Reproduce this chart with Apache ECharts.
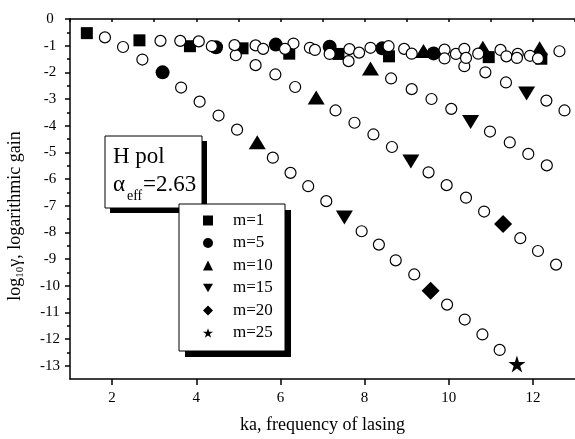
<!DOCTYPE html>
<html>
<head>
<meta charset="utf-8">
<script src="https://cdn.jsdelivr.net/npm/echarts@6.0.0/dist/echarts.min.js"></script>
<style>
  html, body { margin: 0; padding: 0; background: #fff; }
  #chart { width: 575px; height: 439px; }
</style>
</head>
<body>
<div id="chart"></div>
<script>
  // tick values
  const xTickLabels = [2, 4, 6, 8, 10, 12];
  const xMinorTicks = [3, 5, 7, 9, 11];
  const yTickLabels = [0, -1, -2, -3, -4, -5, -6, -7, -8, -9, -10, -11, -12, -13];
  const yMinorTicks = [-0.5, -1.5, -2.5, -3.5, -4.5, -5.5, -6.5, -7.5, -8.5, -9.5, -10.5, -11.5, -12.5];

  // filled markers, one array per m
  const m1Points = [[1.40, -0.53], [2.65, -0.80], [3.85, -1.02], [5.10, -1.10], [6.21, -1.30],
    [7.38, -1.31], [8.58, -1.40], [10.95, -1.43], [12.20, -1.49]];
  const m5Points = [[3.20, -2.00], [4.47, -1.06], [5.89, -0.96], [7.17, -1.04], [8.42, -1.10], [9.64, -1.29]];
  const m10Points = [[5.45, -4.62], [6.85, -2.94], [8.14, -1.86], [9.40, -1.20], [10.81, -1.08], [12.16, -1.10]];
  const m15Points = [[7.52, -7.44], [9.10, -5.34], [10.52, -3.86], [11.85, -2.79]];
  const m20Points = [[9.57, -10.19], [11.29, -7.69]];
  const m25Points = [[11.62, -12.94]];

  // open circles (intermediate m)
  const openPoints = [
    [1.83, -0.69], [2.26, -1.05], [2.72, -1.52], [3.64, -2.57], [4.08, -3.10], [4.53, -3.62], [4.97, -4.15],
    [5.82, -5.20], [6.24, -5.77], [6.66, -6.27], [7.09, -6.83], [7.93, -7.96], [8.34, -8.46], [8.74, -9.05],
    [9.18, -9.58], [9.96, -10.71], [10.38, -11.27], [10.80, -11.83], [11.21, -12.41],
    [3.15, -0.82], [3.62, -0.82], [4.06, -0.84], [4.94, -1.36], [5.41, -1.73], [5.88, -2.08], [6.35, -2.55],
    [7.31, -3.43], [7.76, -3.89], [8.21, -4.33], [8.65, -4.80], [9.52, -5.75], [9.95, -6.23], [10.41, -6.70],
    [10.84, -7.22], [11.70, -8.22], [12.12, -8.70], [12.55, -9.21],
    [4.37, -1.02], [4.91, -0.98], [5.41, -0.99], [6.31, -0.92], [6.70, -1.08], [7.17, -1.31], [7.62, -1.58],
    [8.63, -2.23], [9.12, -2.63], [9.59, -3.00], [10.06, -3.37], [10.98, -4.22], [11.45, -4.63], [11.89, -5.06],
    [12.33, -5.49],
    [5.59, -1.12], [6.11, -1.12], [6.82, -1.16], [7.64, -1.13], [7.87, -1.26], [8.14, -1.08], [8.57, -1.02],
    [8.94, -1.12], [9.12, -1.30], [9.90, -1.15], [9.90, -1.48], [10.17, -1.31], [10.37, -1.12], [10.37, -1.77],
    [10.41, -1.46], [10.70, -1.30], [10.87, -2.00], [11.23, -1.16], [11.37, -1.40], [11.36, -2.38], [11.64, -1.31],
    [11.62, -1.46], [11.93, -1.38], [12.12, -1.48], [12.32, -3.06], [12.63, -1.21], [12.75, -3.43]
  ];

  const FONT = "Liberation Serif";
  const BLACK = "#000";
  const STAR = "path://M50,0L61.8,36.2L100,36.2L69.1,58.6L80.9,95.1L50,72.6L19.1,95.1L30.9,58.6L0,36.2L38.2,36.2Z";
  const DOWN_TRI = "path://M0,0L20,0L10,17Z";

  const markerDefs = [
    { name: "m=1", data: m1Points, symbol: "rect", size: 12 },
    { name: "m=5", data: m5Points, symbol: "circle", size: 14 },
    { name: "m=10", data: m10Points, symbol: "triangle", size: [17, 14] },
    { name: "m=15", data: m15Points, symbol: DOWN_TRI, size: [17, 14] },
    { name: "m=20", data: m20Points, symbol: "diamond", size: 18 },
    { name: "m=25", data: m25Points, symbol: STAR, size: 17 }
  ];

  const lineStyle = { color: BLACK, width: 1.5 };
  const labelStyle = { fontFamily: FONT, fontSize: 15, color: BLACK };

  const chart = echarts.init(document.getElementById("chart"));

  chart.setOption({
    animation: false,
    backgroundColor: "#fff",
    grid: { left: 70, right: -7, top: 19, bottom: 55, containLabel: false },
    xAxis: [
      {
        type: "value", min: 1, max: 13, position: "bottom",
        axisLine: { show: true, onZero: false, lineStyle: lineStyle },
        axisTick: { show: true, customValues: xTickLabels, length: 6, lineStyle: lineStyle },
        axisLabel: { customValues: xTickLabels, margin: 12, ...labelStyle },
        splitLine: { show: false },
        name: "ka, frequency of lasing", nameLocation: "middle", nameGap: 37,
        nameTextStyle: { fontFamily: FONT, fontSize: 18, color: BLACK }
      },
      {
        type: "value", min: 1, max: 13, position: "bottom",
        axisLine: { show: false },
        axisTick: { show: true, customValues: xMinorTicks, length: 3, lineStyle: lineStyle },
        axisLabel: { show: false },
        splitLine: { show: false }
      },
      {
        type: "value", min: 1, max: 13, interval: 1, position: "top",
        axisLine: { show: true, onZero: false, lineStyle: lineStyle },
        axisTick: { show: true, inside: true, length: 3, lineStyle: lineStyle },
        axisLabel: { show: false },
        splitLine: { show: false }
      }
    ],
    yAxis: [
      {
        type: "value", min: -13.5, max: 0, position: "left",
        axisLine: { show: true, onZero: false, lineStyle: lineStyle },
        axisTick: { show: true, customValues: yTickLabels, length: 5, lineStyle: lineStyle },
        axisLabel: { customValues: yTickLabels, margin: 20, align: "center", ...labelStyle },
        splitLine: { show: false }
      },
      {
        type: "value", min: -13.5, max: 0, position: "left",
        axisLine: { show: false },
        axisTick: { show: true, customValues: yMinorTicks, length: 3, lineStyle: lineStyle },
        axisLabel: { show: false },
        splitLine: { show: false }
      }
    ],
    legend: {
      data: markerDefs.map((d) => d.name),
      orient: "vertical",
      left: 179,
      top: 204,
      padding: [8, 12, 10, 24],
      itemWidth: 10,
      itemHeight: 10,
      itemGap: 5.5,
      selectedMode: false,
      formatter: (name) => `{t|${name}}`,
      textStyle: {
        fontFamily: FONT, fontSize: 17, color: BLACK,
        rich: { t: { fontFamily: FONT, fontSize: 17, color: BLACK, padding: [0, 0, 0, 15] } }
      },
      z: 10
    },
    graphic: [
      // annotation box with drop shadow
      { type: "rect", z: 5, shape: { x: 110, y: 141, width: 97, height: 72 }, style: { fill: BLACK } },
      { type: "rect", z: 5, shape: { x: 105, y: 136, width: 97, height: 72 },
        style: { fill: "#fff", stroke: BLACK, lineWidth: 1 } },
      { type: "text", z: 6, x: 113, y: 157,
        style: { text: "H pol", fontFamily: FONT, fontSize: 23, fill: BLACK, verticalAlign: "middle" } },
      { type: "text", z: 6, x: 113, y: 185,
        style: { text: "α", fontFamily: FONT, fontSize: 23, fill: BLACK, verticalAlign: "middle" } },
      { type: "text", z: 6, x: 127, y: 196,
        style: { text: "eff", fontFamily: FONT, fontSize: 14, fill: BLACK, verticalAlign: "middle" } },
      { type: "text", z: 6, x: 143, y: 185,
        style: { text: "=2.63", fontFamily: FONT, fontSize: 23, fill: BLACK, verticalAlign: "middle" } },
      // legend box with drop shadow
      { type: "rect", z: 7, shape: { x: 185, y: 210, width: 106, height: 147 }, style: { fill: BLACK } },
      { type: "rect", z: 7, shape: { x: 179, y: 204, width: 106, height: 147 },
        style: { fill: "#fff", stroke: BLACK, lineWidth: 1 } },
      // y axis title
      { type: "text", z: 6, x: 15, y: 216, rotation: Math.PI / 2,
        style: {
          text: "{n|log}{s|10}{n|γ, logarithmic gain}",
          align: "center", verticalAlign: "middle", fill: BLACK,
          rich: {
            n: { fontFamily: FONT, fontSize: 18, lineHeight: 22, fill: BLACK },
            s: { fontFamily: FONT, fontSize: 11, lineHeight: 22, verticalAlign: "bottom", fill: BLACK }
          }
        } }
    ],
    series: [
      ...markerDefs.map((d) => ({
        name: d.name,
        type: "scatter",
        data: d.data,
        symbol: d.symbol,
        symbolSize: d.size,
        itemStyle: { color: BLACK, borderWidth: 0, opacity: 1 },
        emphasis: { disabled: true },
        z: 2
      })),
      {
        name: "open",
        type: "scatter",
        data: openPoints,
        symbol: "circle",
        symbolSize: 11,
        itemStyle: { color: "#fff", borderColor: BLACK, borderWidth: 1.2, opacity: 1 },
        emphasis: { disabled: true },
        z: 3
      }
    ]
  });
</script>
</body>
</html>
